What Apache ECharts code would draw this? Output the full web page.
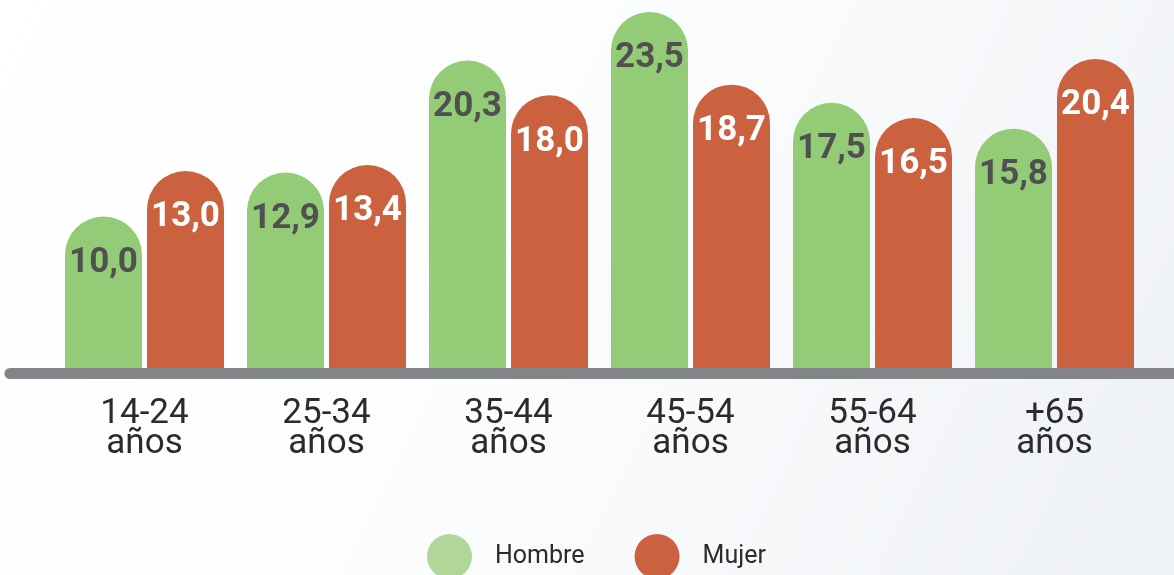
<!DOCTYPE html>
<html>
<head>
<meta charset="utf-8">
<script src="https://cdn.jsdelivr.net/npm/echarts@6/dist/echarts.min.js"></script>
<style>
  html, body { margin: 0; padding: 0; }
  #chart { width: 1174px; height: 575px; }
</style>
</head>
<body>
<div id="chart"></div>
<script>
// grupos de edad
const categories = ['14-24\naños', '25-34\naños', '35-44\naños', '45-54\naños', '55-64\naños', '+65\naños']
const hombre = [10.0, 12.9, 20.3, 23.5, 17.5, 15.8]
const mujer = [13.0, 13.4, 18.0, 18.7, 16.5, 20.4]
const seriesNames = ['Hombre', 'Mujer']

const chart = echarts.init(document.getElementById('chart'), null, { renderer: 'canvas' })

const fmt = p => p.value.toFixed(1).replace('.', ',')

const barLabel = (color) => ({
  show: true,
  position: 'insideTop',
  distance: 29,
  formatter: fmt,
  color: color,
  fontFamily: 'Roboto',
  fontWeight: 'bold',
  fontSize: 35
})

const option = {
  animation: false,
  backgroundColor: {
    type: 'linear', x: 0, y: 0, x2: 1, y2: 1,
    colorStops: [
      { offset: 0, color: '#ffffff' },
      { offset: 0.5, color: '#fbfcfd' },
      { offset: 1, color: '#eef1f5' }
    ]
  },
  grid: [
    { left: 53.5, width: 1092, top: 0, height: 368 },
    // solo para la linea gris del eje
    { left: 10, width: 1180, top: 0, height: 373.5 }
  ],
  legend: {
    bottom: -9,
    left: 422,
    itemWidth: 45,
    itemHeight: 45,
    itemGap: 50,
    icon: 'circle',
    textStyle: { fontFamily: 'Roboto', fontSize: 25, color: '#2b2b2b', padding: [0, 0, 0, 18] },
    data: [
      { name: seriesNames[0], itemStyle: { color: '#b0d799' } },
      { name: seriesNames[1], itemStyle: { color: '#cc6140' } }
    ]
  },
  xAxis: [
    {
      type: 'category',
      gridIndex: 0,
      data: categories,
      axisLine: { show: false },
      axisTick: { show: false },
      axisLabel: {
        margin: 31,
        fontFamily: 'Roboto',
        fontSize: 35,
        lineHeight: 30,
        color: '#2b2b2b'
      }
    },
    {
      type: 'value',
      gridIndex: 1,
      min: 0,
      max: 1,
      axisLine: { show: true, lineStyle: { color: '#848589', width: 11, cap: 'round' } },
      axisTick: { show: false },
      axisLabel: { show: false },
      splitLine: { show: false }
    }
  ],
  yAxis: [
    { type: 'value', gridIndex: 0, min: 0, max: 24.29, show: false },
    { type: 'value', gridIndex: 1, min: 0, max: 1, show: false }
  ],
  series: [
    {
      name: seriesNames[0],
      type: 'bar',
      xAxisIndex: 0,
      yAxisIndex: 0,
      data: hombre,
      barWidth: 77,
      barGap: '6.5%',
      itemStyle: { color: '#93cb76', borderRadius: [38.5, 38.5, 0, 0] },
      label: barLabel('#505050')
    },
    {
      name: seriesNames[1],
      type: 'bar',
      xAxisIndex: 0,
      yAxisIndex: 0,
      data: mujer,
      barWidth: 77,
      barGap: '6.5%',
      itemStyle: { color: '#cc6140', borderRadius: [38.5, 38.5, 0, 0] },
      label: barLabel('#ffffff')
    }
  ]
}

chart.setOption(option)
</script>
</body>
</html>
